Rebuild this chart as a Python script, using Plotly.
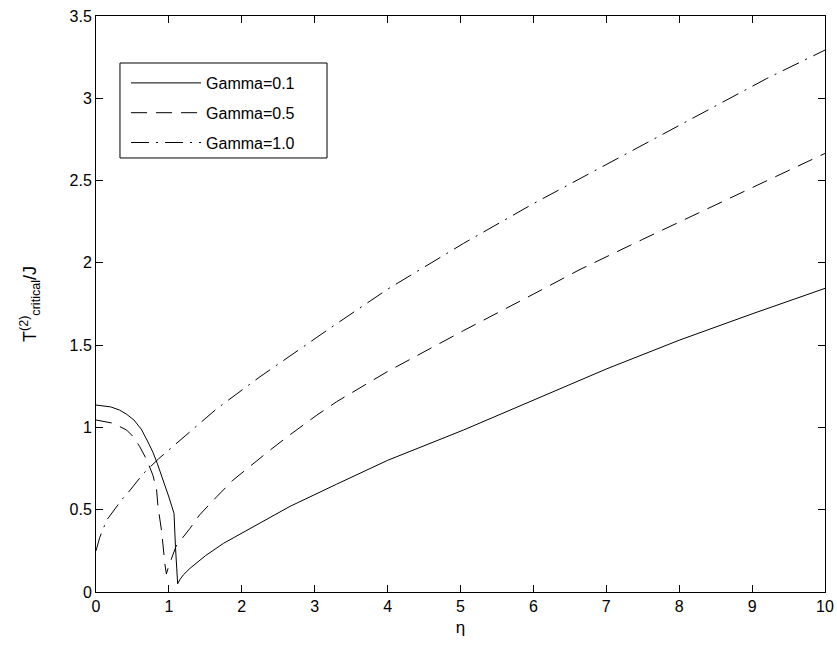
import plotly.graph_objects as go

# Gamma = 0.1 (solid)
eta_g01 = [0, 0.2, 0.32, 0.42, 0.52, 0.62, 0.70, 0.78, 0.84, 0.90, 0.955, 1.0, 1.04, 1.07,
           1.09, 1.11, 1.12, 1.15, 1.2, 1.29, 1.5, 1.75, 2.2, 2.66, 3.3, 4.0, 5.04, 6.0,
           6.64, 7.0, 8.0, 9.0, 10.0]
T_g01 = [1.136, 1.125, 1.106, 1.08, 1.045, 0.99, 0.923, 0.85, 0.782, 0.71, 0.64, 0.577, 0.52, 0.478,
         0.275, 0.073, 0.05, 0.075, 0.105, 0.144, 0.22, 0.296, 0.407, 0.52, 0.655, 0.80, 0.984, 1.168,
         1.29, 1.355, 1.53, 1.69, 1.845]

# Gamma = 0.5 (dashed)
eta_g05 = [0, 0.24, 0.42, 0.51, 0.60, 0.70, 0.78, 0.83, 0.85, 0.90, 0.945, 0.965, 1.0, 1.05,
           1.1, 1.29, 1.42, 1.656, 1.88, 2.39, 2.66, 3.03, 3.3, 4.0, 5.04, 6.0, 6.64, 7.5,
           8.24, 9.0, 10.0]
T_g05 = [1.045, 1.025, 0.984, 0.944, 0.883, 0.80, 0.71, 0.625, 0.52, 0.37, 0.17, 0.11, 0.16, 0.22,
         0.28, 0.387, 0.468, 0.579, 0.68, 0.863, 0.955, 1.075, 1.156, 1.34, 1.588, 1.81, 1.96, 2.143,
         2.30, 2.457, 2.665]

# Gamma = 1.0 (dash-dot)
eta_g10 = [0, 0.05, 0.147, 0.35, 0.47, 0.65, 0.86, 1.12, 1.4, 1.66, 2.25, 2.84, 3.25, 4.0, 5.04,
           6.0, 6.64, 7.87, 9.2, 10.0]
T_g10 = [0.25, 0.33, 0.437, 0.559, 0.62, 0.72, 0.81, 0.91, 1.02, 1.115, 1.308, 1.49, 1.615, 1.84, 2.118,
         2.36, 2.513, 2.807, 3.12, 3.293]

series_names = ["Gamma=0.1", "Gamma=0.5", "Gamma=1.0"]
x_ticks = list(range(0, 11))
y_ticks = [0, 0.5, 1, 1.5, 2, 2.5, 3, 3.5]
y_tick_labels = ["0", "0.5", "1", "1.5", "2", "2.5", "3", "3.5"]

dashes = ["solid", "16px,9px", "18px,7px,2px,7px"]
data = [(eta_g01, T_g01), (eta_g05, T_g05), (eta_g10, T_g10)]

FONT = "Liberation Sans, Arial, sans-serif"

fig = go.Figure()
for i, ((xs, ys), name) in enumerate(zip(data, series_names)):
    fig.add_trace(go.Scatter(
        x=xs, y=ys, mode="lines", name=name, legendgroup=name,
        line=dict(color="black", width=1, dash=dashes[i]),
    ))

axis_common = dict(
    showline=True, linecolor="black", linewidth=1, mirror="ticks",
    ticks="inside", ticklen=7, tickcolor="black", tickwidth=1,
    showgrid=False, zeroline=False, automargin=False,
    tickfont=dict(family=FONT, size=16, color="black"),
)

# legend frame (drawn as a box so its size matches the original)
fig.add_shape(type="rect", xref="paper", yref="paper",
              x0=0.0329, x1=0.3169, y0=0.7535, y1=0.9184,
              line=dict(color="black", width=1), fillcolor="white", layer="below")

fig.update_layout(
    width=837, height=653,
    margin=dict(l=96, r=12, t=16, b=61),
    paper_bgcolor="white", plot_bgcolor="white",
    font=dict(family=FONT, size=16, color="black"),
    xaxis=dict(range=[0, 10], tickvals=x_ticks,
               title=dict(text="η", standoff=6, font=dict(size=17)), **axis_common),
    yaxis=dict(range=[0, 3.5], tickvals=y_ticks, ticktext=y_tick_labels,
               title=dict(text="T<sup>(2)</sup><sub>critical</sub>/J", standoff=28, font=dict(size=18)),
               **axis_common),
    legend=dict(
        x=0.0412, y=0.9132, xanchor="left", yanchor="top",
        bgcolor="rgba(0,0,0,0)", borderwidth=0,
        font=dict(size=16), tracegroupgap=6, itemwidth=70,
    ),
    showlegend=True,
)

fig.write_html("out.html", config={"displayModeBar": False},
               post_script="document.body.style.margin='0';")
